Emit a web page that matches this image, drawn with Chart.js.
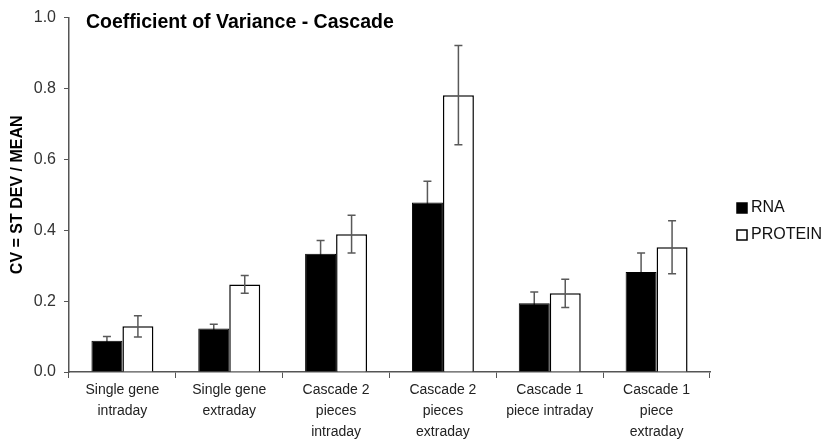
<!DOCTYPE html>
<html>
<head>
<meta charset="utf-8">
<script src="https://cdn.jsdelivr.net/npm/chart.js@4.4.1/dist/chart.umd.min.js"></script>
<style>
  body { margin: 0; background: #fff; }
  #wrap { width: 824px; height: 442px; }
</style>
</head>
<body>
<div id="wrap"><canvas id="cv"></canvas></div>
<script>
const categories = [
  ['Single gene', 'intraday'],
  ['Single gene', 'extraday'],
  ['Cascade 2', 'pieces', 'intraday'],
  ['Cascade 2', 'pieces', 'extraday'],
  ['Cascade 1', 'piece intraday'],
  ['Cascade 1', 'piece', 'extraday']
];
const rnaValues = [0.088, 0.123, 0.334, 0.478, 0.194, 0.282];
const rnaErrors = [0.012, 0.012, 0.037, 0.060, 0.032, 0.054];
const proteinValues = [0.129, 0.247, 0.389, 0.781, 0.222, 0.352];
const proteinErrors = [0.030, 0.025, 0.053, 0.140, 0.040, 0.075];
const yTicks = [0, 0.2, 0.4, 0.6, 0.8, 1.0];

const FONT = 'Liberation Sans, Arial, sans-serif';

// error bars for one dataset, placed with the chart's own scales
function drawErrors(chart, dsIndex, errs) {
  const ctx = chart.ctx;
  const meta = chart.getDatasetMeta(dsIndex);
  const y = chart.scales.y;
  const vals = chart.data.datasets[dsIndex].data;
  ctx.save();
  ctx.strokeStyle = '#595959';
  ctx.lineWidth = 1.5;
  meta.data.forEach((bar, i) => {
    const x = bar.x;
    const top = y.getPixelForValue(vals[i] + errs[i]);
    const bot = y.getPixelForValue(vals[i] - errs[i]);
    ctx.beginPath();
    ctx.moveTo(x, top); ctx.lineTo(x, bot);
    ctx.moveTo(x - 4, top); ctx.lineTo(x + 4, top);
    ctx.moveTo(x - 4, bot); ctx.lineTo(x + 4, bot);
    ctx.stroke();
  });
  ctx.restore();
}

const extras = {
  id: 'extras',
  // RNA bars are drawn over their bars so only the upper half shows
  beforeDatasetsDraw(chart) { drawErrors(chart, 0, rnaErrors); },
  afterDatasetsDraw(chart) { drawErrors(chart, 1, proteinErrors); },
  afterDraw(chart) {
    const ctx = chart.ctx;
    const area = chart.chartArea;
    ctx.save();
    ctx.fillStyle = '#000';
    ctx.font = 'bold 19.5px ' + FONT;
    ctx.textBaseline = 'alphabetic';
    ctx.fillText('Coefficient of Variance - Cascade', area.left + 17, 28);

    // legend
    ctx.font = '16px ' + FONT;
    ctx.textBaseline = 'middle';
    chart.data.datasets.forEach((ds, i) => {
      const bx = area.right + 27;
      const by = 208 + i * 27;
      ctx.fillStyle = ds.backgroundColor;
      ctx.fillRect(bx, by - 5, 10, 10);
      ctx.strokeStyle = '#000';
      ctx.lineWidth = 1.5;
      ctx.strokeRect(bx, by - 5, 10, 10);
      ctx.fillStyle = '#111';
      ctx.fillText(ds.label, bx + 14, by);
    });
    ctx.restore();
  }
};

new Chart(document.getElementById('cv'), {
  type: 'bar',
  data: {
    labels: categories,
    datasets: [
      {
        label: 'RNA',
        data: rnaValues,
        backgroundColor: '#000',
        borderColor: '#000',
        borderWidth: 1
      },
      {
        label: 'PROTEIN',
        data: proteinValues,
        backgroundColor: '#fff',
        borderColor: '#000',
        borderWidth: 1.5
      }
    ]
  },
  options: {
    responsive: true,
    maintainAspectRatio: false,
    animation: false,
    devicePixelRatio: 1,
    layout: { padding: { top: 14, right: 114, left: 8, bottom: 0 } },
    datasets: { bar: { categoryPercentage: 0.58, barPercentage: 1 } },
    plugins: {
      legend: { display: false },
      tooltip: { enabled: false }
    },
    scales: {
      x: {
        afterFit(scale) { scale.height = 70; },
        grid: { display: true, drawOnChartArea: false, offset: true, color: '#555', tickLength: 6 },
        border: { color: '#555', width: 1.5 },
        ticks: {
          color: '#222',
          padding: 2,
          font: { family: FONT, size: 14, lineHeight: 1.5 },
          maxRotation: 0,
          autoSkip: false
        }
      },
      y: {
        min: 0,
        max: 1,
        afterFit(scale) { scale.width = 61; },
        afterBuildTicks(axis) { axis.ticks = yTicks.map(v => ({ value: v })); },
        grid: { display: true, drawOnChartArea: false, color: '#555', tickLength: 5 },
        border: { color: '#555', width: 1.5 },
        ticks: {
          color: '#333',
          padding: 8,
          font: { family: FONT, size: 16 },
          callback: v => v.toFixed(1)
        },
        title: {
          display: true,
          text: 'CV = ST DEV / MEAN',
          color: '#000',
          padding: { top: 0, bottom: 0 },
          font: { family: FONT, size: 16, weight: 'bold' }
        }
      }
    }
  },
  plugins: [extras]
});
</script>
</body>
</html>
